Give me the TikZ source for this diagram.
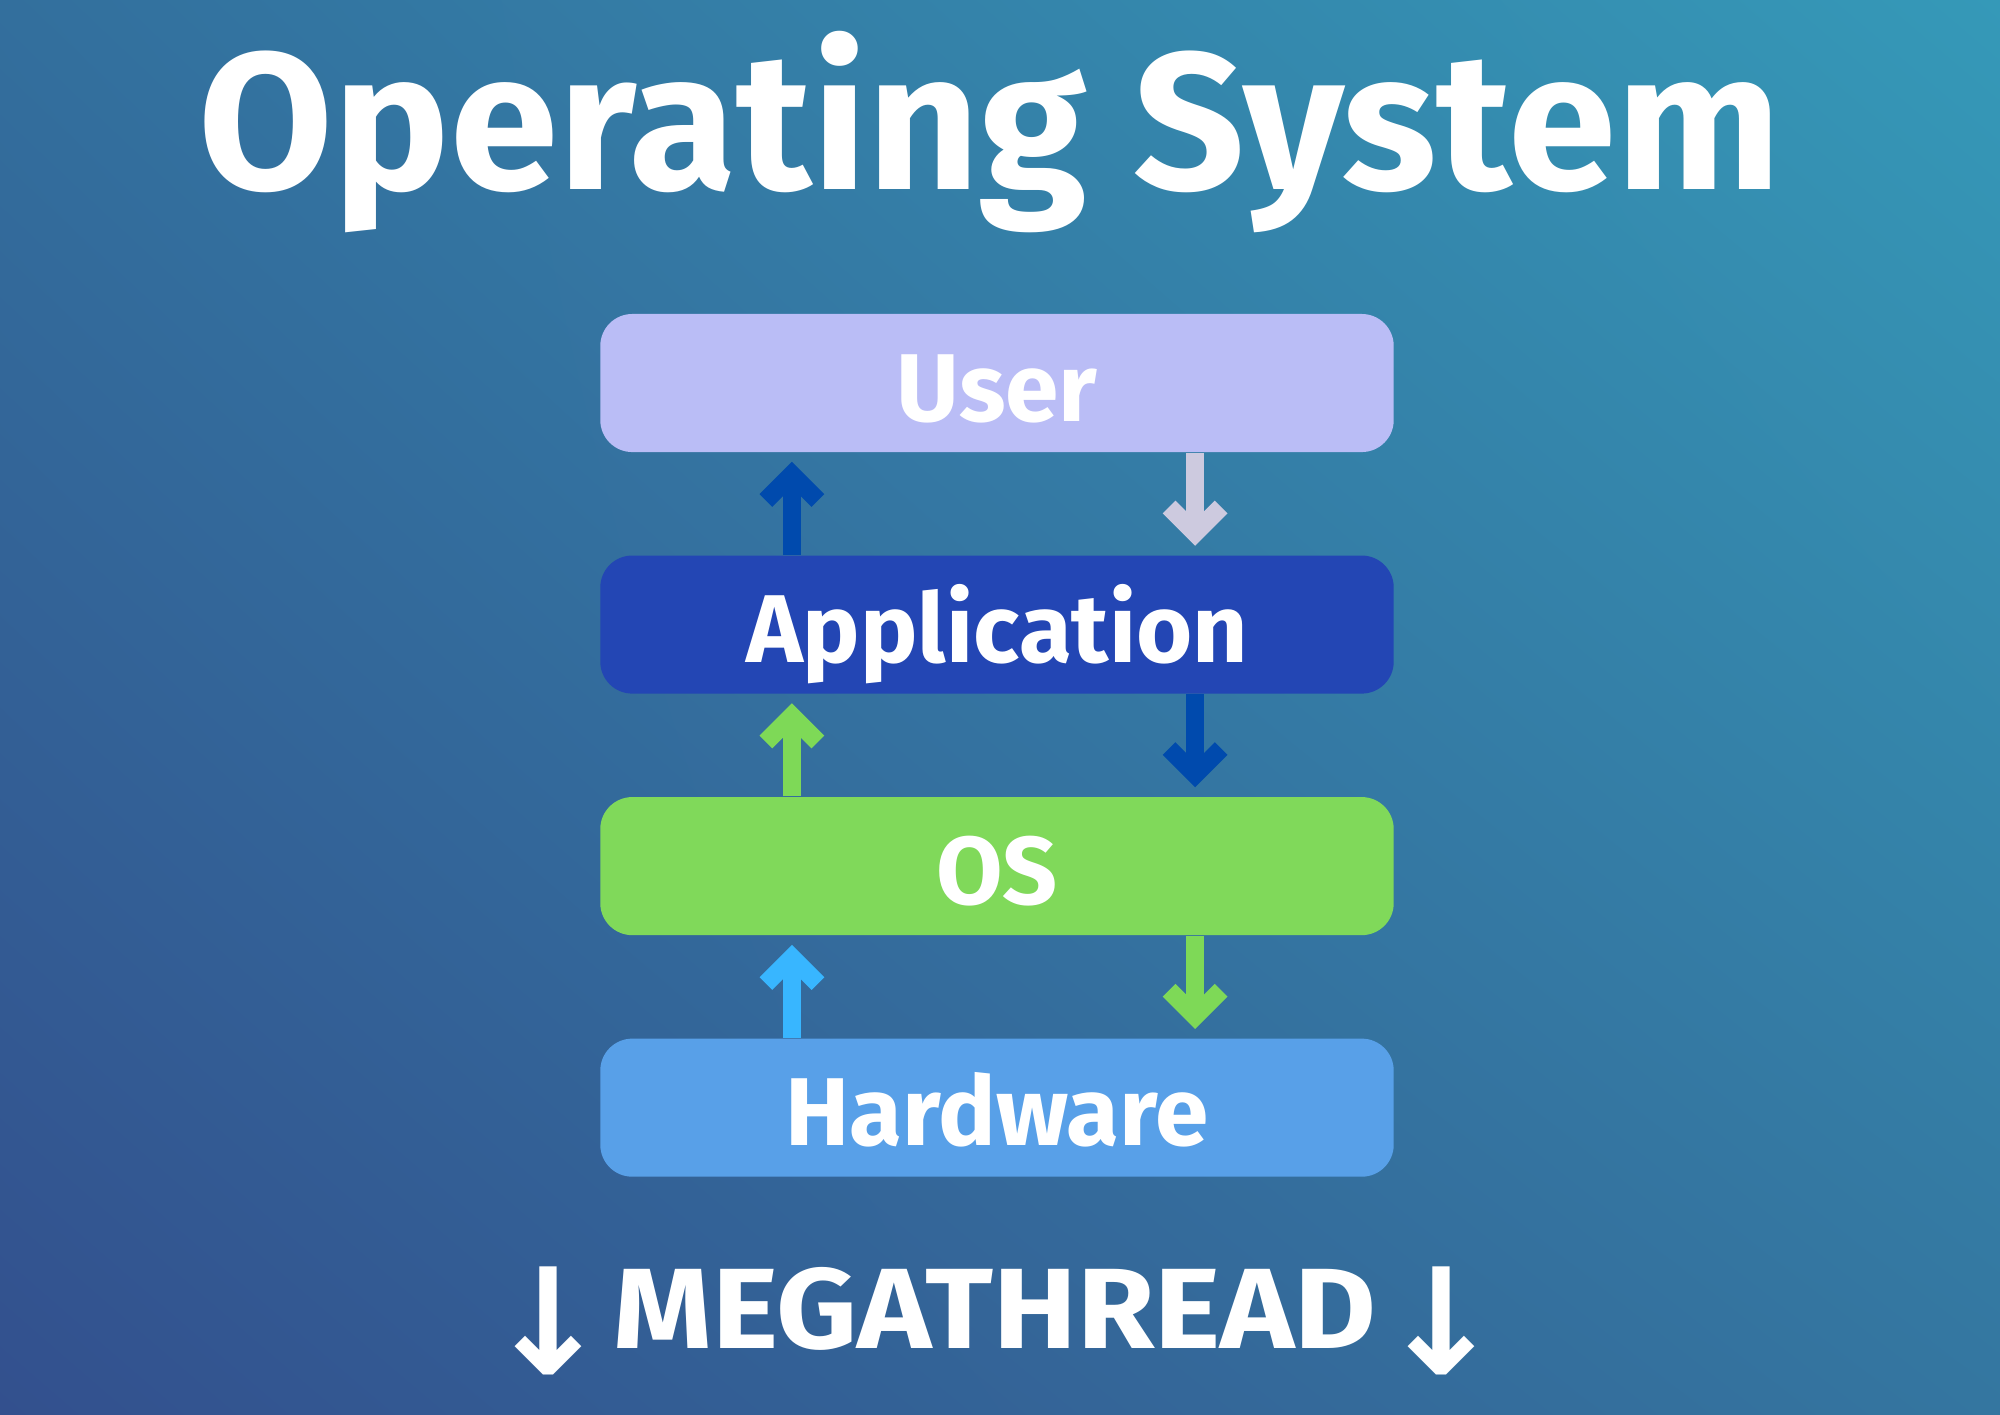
\documentclass[tikz,border=0pt]{standalone}
\usepackage{fontspec}
\setmainfont{Fira Sans}
\newfontfamily\arrowfont{DejaVu Sans}
\newfontfamily\widefont{Fira Sans}[FakeStretch=1.1]
\usetikzlibrary{positioning,arrows.meta,shadings}
\definecolor{bgtopleft}{HTML}{336F9D}
\definecolor{bgtopright}{HTML}{3599B8}
\definecolor{bgbottomleft}{HTML}{33508E}
\definecolor{bgbottomright}{HTML}{3476A0}
\definecolor{userpurple}{HTML}{BABDF6}
\definecolor{appblue}{HTML}{2346B4}
\definecolor{osgreen}{HTML}{80D95A}
\definecolor{hwblue}{HTML}{58A0E8}
\definecolor{darkblue}{HTML}{004AAD}
\definecolor{lavender}{HTML}{CDCADF}
\definecolor{arrowgreen}{HTML}{7ED957}
\definecolor{skyblue}{HTML}{38B6FF}
\tikzset{
    layer/.style={
        rectangle,
        rounded corners=0.32cm,
        minimum width=7.93cm,
        minimum height=1.38cm,
        text height=23.8pt,
        text depth=2pt,
        text=white,
        font=\fontsize{27.4}{30}\selectfont\bfseries
    },
    flow/.style={
        line width=0.18cm,
        -{Straight Barb[length=0.26cm, width=0.52cm, sharp]},
        shorten >=0.09cm
    }
}

\begin{document}
\begin{tikzpicture}[x=0.01cm, y=-0.01cm, node distance=1.02cm]
% background
\shade[upper left=bgtopleft, upper right=bgtopright, lower left=bgbottomleft, lower right=bgbottomright] (0,0) rectangle (2000,1414);
\useasboundingbox (0,0) rectangle (2000,1414);

% Title
\node[anchor=base, text=white, font=\fontsize{55.5}{60}\selectfont\bfseries] (title) at (990,189) {Operating System};

% Layers
\node[layer, fill=userpurple] (user) at (997,383) {User};
\node[layer, fill=appblue, below=of user] (app) {Application};
\node[layer, fill=osgreen, below=of app] (os) {OS};
\node[layer, fill=hwblue, below=of os] (hw) {Hardware};

% Arrows up
\draw[flow, darkblue] ([xshift=-2.05cm]app.north) -- ([xshift=-2.05cm]user.south);
\draw[flow, arrowgreen] ([xshift=-2.05cm]os.north) -- ([xshift=-2.05cm]app.south);
\draw[flow, skyblue] ([xshift=-2.05cm]hw.north) -- ([xshift=-2.05cm]os.south);

% Arrows down
\draw[flow, lavender] ([xshift=1.98cm]user.south) -- ([xshift=1.98cm]app.north);
\draw[flow, darkblue] ([xshift=1.98cm]app.south) -- ([xshift=1.98cm]os.north);
\draw[flow, arrowgreen] ([xshift=1.98cm]os.south) -- ([xshift=1.98cm]hw.north);

% Footer
\node[anchor=base, text=white, font=\widefont\fontsize{32.5}{40}\selectfont\bfseries] (footer) at (995,1348)
    {\raisebox{-0.26cm}{\arrowfont\fontsize{42}{42}\selectfont ↓}\hspace{0.03cm}MEGATHREAD\hspace{0.03cm}\raisebox{-0.26cm}{\arrowfont\fontsize{42}{42}\selectfont ↓}};
\end{tikzpicture}
\end{document}
